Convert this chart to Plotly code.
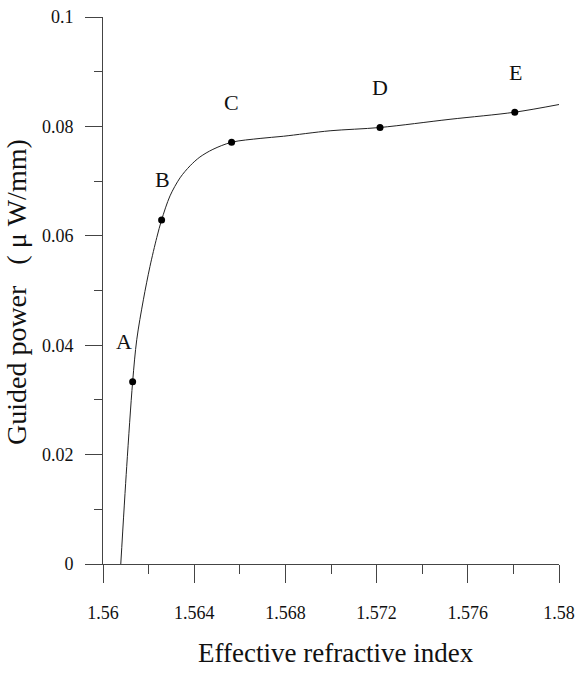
import plotly.graph_objects as go

# Smooth curve
curve_x = [1.56078, 1.56104, 1.5613, 1.56148, 1.56177, 1.56206, 1.56236, 1.56257,
           1.56294, 1.56338, 1.56382, 1.56425, 1.56482, 1.56564, 1.56689, 1.56791,
           1.56996, 1.57215, 1.57522, 1.57806, 1.58]
curve_y = [0.0, 0.0178, 0.0333, 0.0410, 0.0483, 0.0544, 0.0597, 0.0629,
           0.0673, 0.0706, 0.0728, 0.0744, 0.0758, 0.0771, 0.0778, 0.0782,
           0.0792, 0.0798, 0.0813, 0.0826, 0.0840]

# Marked points
point_names = ["A", "B", "C", "D", "E"]
point_x = [1.5613, 1.56257, 1.56564, 1.57215, 1.57806]
point_y = [0.0333, 0.0629, 0.0771, 0.0798, 0.0826]

# Tick labels
x_tickvals = [1.56, 1.564, 1.568, 1.572, 1.576, 1.58]
x_ticktext = ["1.56", "1.564", "1.568", "1.572", "1.576", "1.58"]
y_tickvals = [0, 0.02, 0.04, 0.06, 0.08, 0.1]
y_ticktext = ["0", "0.02", "0.04", "0.06", "0.08", "0.1"]

FONT = "Liberation Serif"
AXC = "#444444"

fig = go.Figure()
fig.add_trace(go.Scatter(x=curve_x, y=curve_y, mode="lines",
                         line=dict(color="#222222", width=1, shape="spline", smoothing=0.9),
                         hoverinfo="skip", showlegend=False))
fig.add_trace(go.Scatter(x=point_x, y=point_y, mode="markers",
                         marker=dict(color="black", size=7),
                         showlegend=False))

label_xshift = [-9, 1, 0, 0, 1]
for name, px, py, xs in zip(point_names, point_x, point_y, label_xshift):
    fig.add_annotation(x=px, y=py, text=name, showarrow=False,
                       xshift=xs, yshift=40,
                       font=dict(family=FONT, size=22, color="#111111"))

fig.add_annotation(xref="paper", yref="paper", x=0.51, y=-0.163, yanchor="middle",
                   text="Effective refractive index", showarrow=False,
                   font=dict(family=FONT, size=27, color="#111111"))
fig.add_annotation(xref="paper", yref="paper", x=-0.191, y=0.497, xanchor="center",
                   yanchor="middle",
                   text="Guided power\u00a0\u00a0\u00a0(\u00a0\u03bc\u00a0W/mm)", textangle=-90,
                   showarrow=False,
                   font=dict(family=FONT, size=28, color="#111111"))

fig.update_layout(
    width=581, height=691,
    margin=dict(l=103, r=22, t=17, b=127, autoexpand=False),
    paper_bgcolor="white", plot_bgcolor="white",
    xaxis=dict(range=[1.56, 1.58], tickvals=x_tickvals, ticktext=x_ticktext,
               showgrid=False, zeroline=False, showline=True, linecolor=AXC, linewidth=1,
               ticks="outside", ticklen=18, tickcolor=AXC, tickwidth=1,
               ticklabelstandoff=14,
               minor=dict(dtick=0.002, ticks="outside", ticklen=9, tickcolor=AXC, tickwidth=1),
               tickfont=dict(family=FONT, size=18, color="#111111")),
    yaxis=dict(range=[0, 0.1], tickvals=y_tickvals, ticktext=y_ticktext,
               showgrid=False, zeroline=False, showline=True, linecolor=AXC, linewidth=1,
               ticks="outside", ticklen=17, tickcolor=AXC, tickwidth=1,
               ticklabelstandoff=8,
               minor=dict(dtick=0.01, ticks="outside", ticklen=8, tickcolor=AXC, tickwidth=1),
               tickfont=dict(family=FONT, size=18, color="#111111")),
)

fig.write_html("out.html", config={"displayModeBar": False},
               post_script="document.body.style.margin='0';")
